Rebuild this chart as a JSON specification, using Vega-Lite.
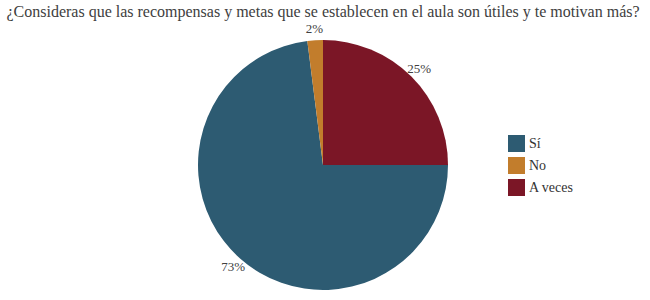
{
  "$schema": "https://vega.github.io/schema/vega-lite/v6.json",
  "autosize": "none",
  "width": 250,
  "height": 250,
  "padding": {"left": 198, "top": 40, "right": 202, "bottom": 10},
  "background": "white",
  "config": {"title": {"font": "Liberation Serif"}},
  "title": {
    "text": "¿Consideras que las recompensas y metas que se establecen en el aula son útiles y te motivan más?",
    "font": "Liberation Serif",
    "fontSize": 16,
    "fontWeight": "normal",
    "color": "#404040",
    "anchor": "middle",
    "frame": "group",
    "offset": 3
  },
  "data": {
    "values": [
      {"respuesta": "A veces", "porcentaje": 25, "etiqueta": "25%", "orden": 1},
      {"respuesta": "Sí", "porcentaje": 73, "etiqueta": "73%", "orden": 2},
      {"respuesta": "No", "porcentaje": 2, "etiqueta": "2%", "orden": 3}
    ]
  },
  "encoding": {
    "theta": {"field": "porcentaje", "type": "quantitative", "stack": true},
    "order": {"field": "orden", "type": "quantitative", "sort": "ascending"}
  },
  "layer": [
    {
      "mark": {"type": "arc", "outerRadius": 125},
      "encoding": {
        "color": {
          "field": "respuesta",
          "type": "nominal",
          "scale": {"domain": ["Sí", "No", "A veces"], "range": ["#2D5B72", "#C27D2C", "#7B1626"]},
          "legend": {
            "title": null,
            "orient": "none",
            "legendX": 310,
            "legendY": 95,
            "symbolType": "square",
            "symbolSize": 289,
            "symbolStrokeWidth": 0,
            "labelFont": "Liberation Serif",
            "labelFontSize": 14,
            "labelColor": "#333333",
            "rowPadding": 5,
            "labelOffset": 4
          }
        }
      }
    },
    {
      "mark": {"type": "text", "radius": 136, "font": "Liberation Serif", "fontSize": 13, "color": "#404040"},
      "encoding": {"text": {"field": "etiqueta", "type": "nominal"}}
    }
  ]
}
